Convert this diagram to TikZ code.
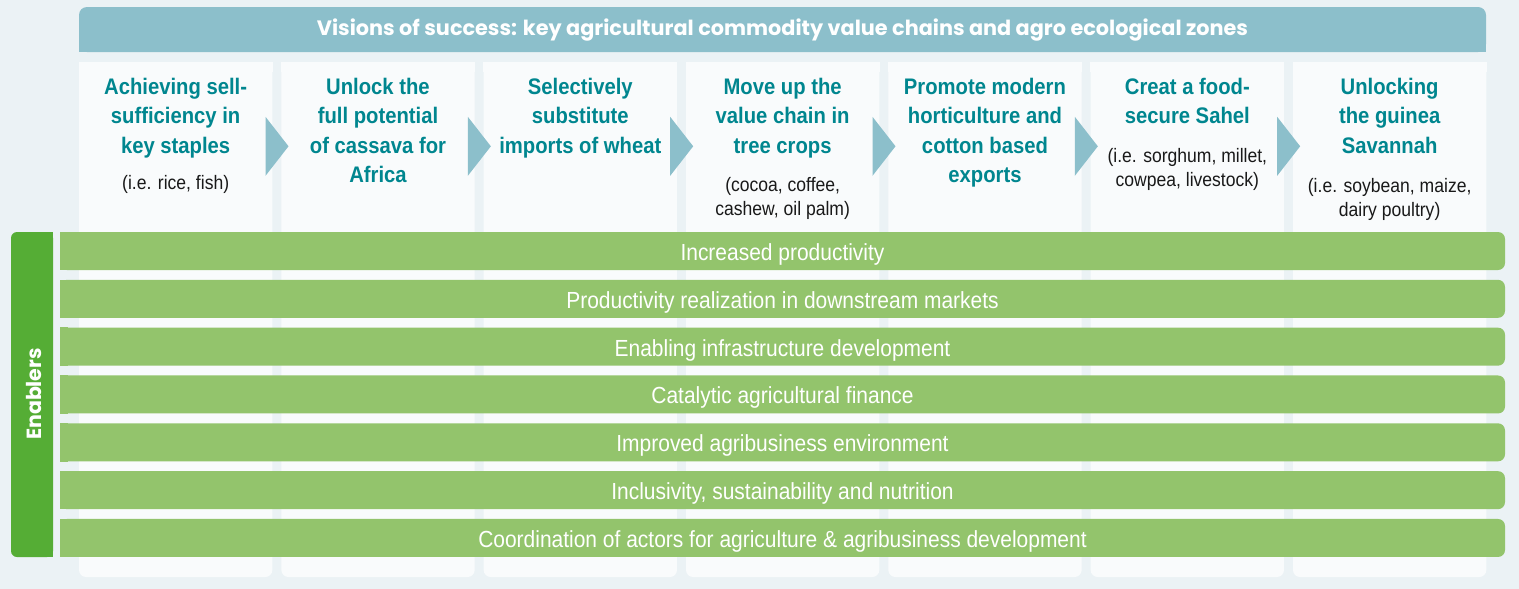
\documentclass[tikz,border=0pt]{standalone}
\usepackage{fontspec}
\setmainfont{Liberation Sans}[FakeStretch=0.9]
\newfontfamily\headfont{Poppins}
\usetikzlibrary{positioning, calc}
\definecolor{bgblue}{HTML}{EBF2F5}
\definecolor{colwhite}{HTML}{F9FBFC}
\definecolor{headblue}{HTML}{8CBFCB}
\definecolor{titleteal}{HTML}{00868F}
\definecolor{barleaf}{HTML}{93C46C}
\definecolor{enabgreen}{HTML}{55AD35}

\begin{document}
\begin{tikzpicture}[x=1pt, y=-1pt,
  col/.style={fill=colwhite, rounded corners=7pt, minimum width=193.3pt,
              minimum height=515pt, inner sep=0pt},
  ttl/.style={anchor=north, align=center, inner sep=0pt, text=titleteal,
              font=\bfseries\fontsize{22.5}{29.5}\selectfont},
  sub/.style={anchor=north, align=center, inner sep=0pt, text=black!90,
              font=\fontsize{19.5}{23.5}\selectfont},
  bar/.style={fill=barleaf, rounded corners=7pt, minimum width=1445pt,
              minimum height=38pt, inner sep=0pt, text=white, text height=19pt,
              text depth=0pt, font=\fontsize{23.3}{27}\selectfont},
  chev/.style={fill=headblue}]
\fill[bgblue] (0,0) rectangle (1519,589);
\useasboundingbox (0,0) rectangle (1519,589);

% columns
\foreach \i in {1,...,7} {
  \node[col] (c\i) at ({175.67+202.33*(\i-1)}, 319.5) {};
  \fill[colwhite] (c\i.north west) rectangle ($(c\i.north east)+(0,10)$);
}

% header
\node[fill=headblue, rounded corners=8pt, minimum width=1407pt,
      minimum height=45pt, inner sep=0pt] (head) at (782.5,29.5) {};
\fill[headblue] ($(head.south west)+(0,-9)$) rectangle (head.south east);
\node[text=white, font=\headfont\bfseries\fontsize{20.8}{24}\selectfont]
  (headtxt) at ($(head.center)+(0,1)$)
  {Visions of success: key agricultural commodity value chains and agro ecological zones};

% chevrons
\foreach \i in {1,...,6}
  \fill[chev] ($(c\i.north east)+(-7,55)$) -- ($(c\i.north east)+(16,84.5)$)
    -- ($(c\i.north east)+(-7,114)$) -- cycle;

% titles
\foreach \i/\t in {1/{Achieving sell-\\sufficiency in\\key staples},
                   2/{Unlock the\\full potential\\of cassava for\\Africa},
                   3/{Selectively\\substitute\\imports of wheat},
                   4/{Move up the\\value chain in\\tree crops},
                   5/{Promote modern\\horticulture and\\cotton based\\exports},
                   6/{Creat a food-\\secure Sahel},
                   7/{Unlocking\\the guinea\\Savannah}}
  \node[ttl] (t\i) at ($(c\i.north)+(0,16)$) {\t};

% examples under the titles
\foreach \i/\s/\dy in {1/{(i.e. rice, fish)}/113,
                       4/{(cocoa, coffee,\\cashew, oil palm)}/115.5,
                       6/{(i.e. sorghum, millet,\\cowpea, livestock)}/86.5,
                       7/{(i.e. soybean, maize,\\dairy poultry)}/116.5}
  \node[sub] (s\i) at ($(c\i.north)+(0,\dy)$) {\s};

% enablers
\node[fill=enabgreen, rounded corners=6pt, minimum width=42pt,
      minimum height=325pt, inner sep=0pt] (enab) at (32,394.5) {};
\fill[enabgreen] ($(enab.north east)+(-8,0)$) rectangle (enab.south east);
\node[rotate=90, text=white, font=\headfont\bfseries\fontsize{20.5}{24}\selectfont]
  (enabtxt) at (33.5,394) {Enablers};

\foreach \i/\txt in {0/Increased productivity,
                     1/Productivity realization in downstream markets,
                     2/Enabling infrastructure development,
                     3/Catalytic agricultural finance,
                     4/Improved agribusiness environment,
                     5/{Inclusivity, sustainability and nutrition},
                     6/Coordination of actors for agriculture \& agribusiness development} {
  \node[bar] (b\i) at (782.5, {251+47.83*\i}) {\txt};
  \fill[barleaf] (b\i.north west) rectangle ($(b\i.south west)+(8,0)$);
}
\end{tikzpicture}
\end{document}
